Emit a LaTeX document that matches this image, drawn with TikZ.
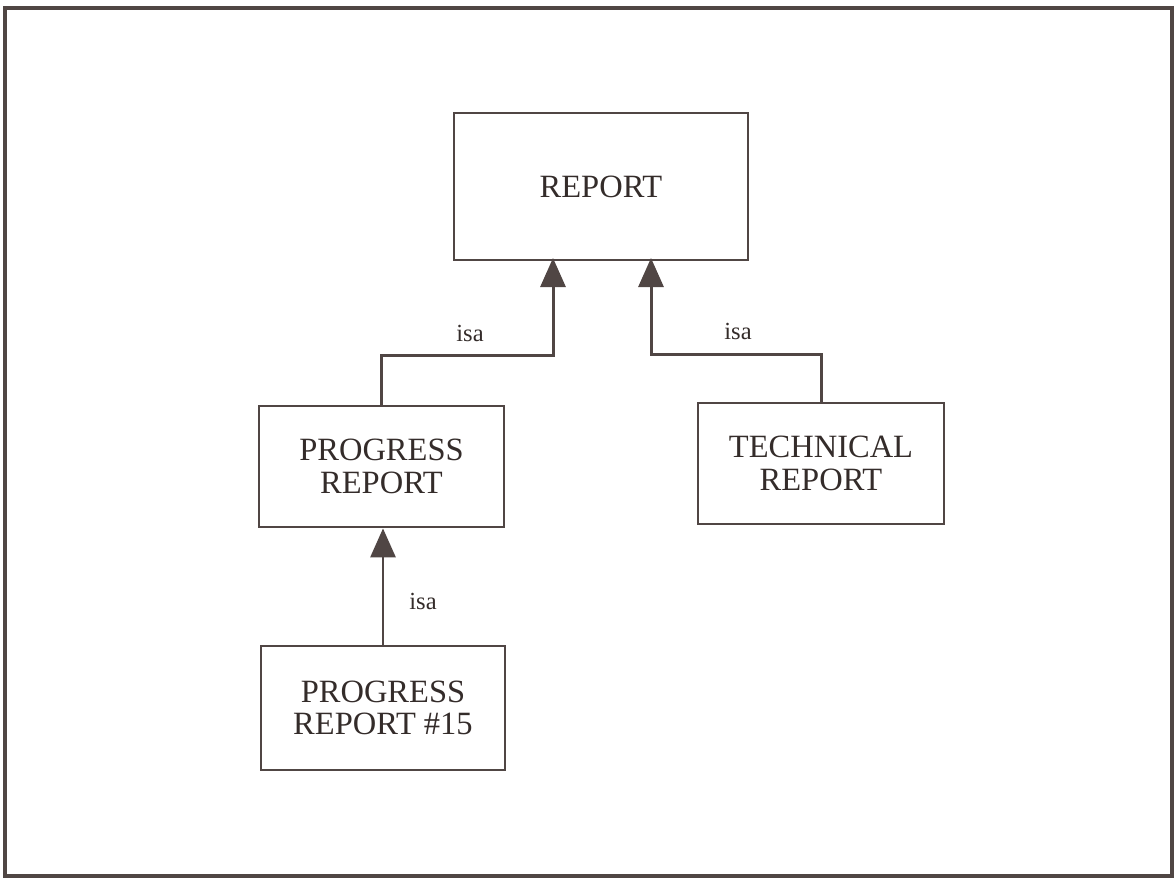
\documentclass[tikz,border=0pt]{standalone}
\usepackage{fontspec}
\setmainfont{Liberation Serif}
\usetikzlibrary{positioning, arrows.meta}

\definecolor{inkline}{RGB}{80,70,68}
\definecolor{inktext}{RGB}{52,44,42}

\begin{document}
\begin{tikzpicture}[
    x=0.02cm, y=-0.02cm,
    every node/.style={align=center, text=inktext},
    classbox/.style={draw=inkline, line width=1.6pt, inner sep=0pt,
        font=\fontsize{18.5}{18.5}\selectfont},
    isa/.style={draw=inkline, line width=1.7pt,
        -{Triangle[length=5.8mm, width=5mm]}},
    isalabel/.style={font=\fontsize{14}{15}\selectfont}
]
    \useasboundingbox (0,0) rectangle (1176,880);
    \draw[inkline, line width=1.9pt] (5,8) rectangle (1172,876);

    % the classes
    \node[classbox, minimum width=5.88cm, minimum height=2.94cm] (rep) at (601,186.5) {REPORT};
    \node[classbox, minimum width=4.9cm, minimum height=2.42cm] (pr) at (381.5,466.5) {PROGRESS\\REPORT};
    \node[classbox, minimum width=4.92cm, minimum height=2.42cm] (tr) at (821,463.5) {TECHNICAL\\REPORT};
    \node[classbox, minimum width=4.88cm, minimum height=2.48cm] (pr15) at (383,708) {PROGRESS\\REPORT \#15};

    \coordinate (inL) at (553,258);
    \coordinate (inR) at (651,258);

    % isa links
    \draw[isa] (pr.north) -- ++(0,-49) -| (inL);
    \draw[isa] (tr.north) -- ++(0,-47) -| (inR);
    \draw[isa] (pr15.north) -- (pr15.north |- pr.south);

    \node[isalabel] (isaL) at (470,333) {isa};
    \node[isalabel] (isaR) at (738,331) {isa};
    \node[isalabel] (isaB) at (423,601) {isa};
\end{tikzpicture}
\end{document}
